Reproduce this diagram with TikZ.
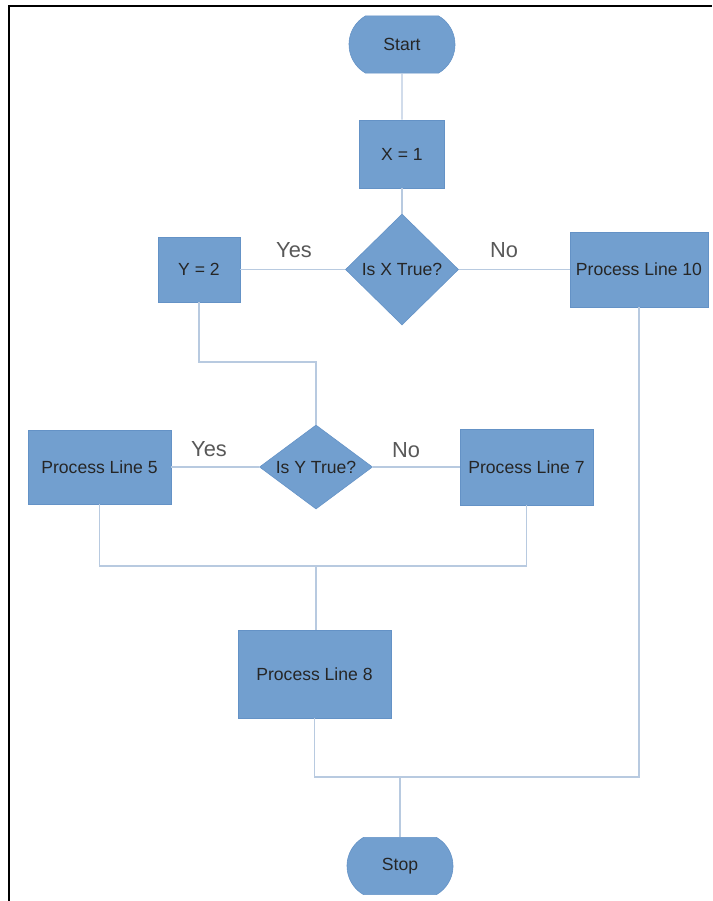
\documentclass[tikz,border=0pt]{standalone}
\usepackage{fontspec}
\setmainfont{Liberation Sans}
\usetikzlibrary{shapes.geometric,shapes.misc}
\definecolor{boxblue}{RGB}{114,159,207}
\definecolor{boxedge}{RGB}{100,146,198}
\definecolor{linkblue}{RGB}{184,202,224}
\definecolor{labelgray}{RGB}{88,88,88}
\tikzset{
  terminal/.style={rounded rectangle,rounded rectangle arc length=120,fill=boxblue,draw=boxedge,
    line width=0.4pt,minimum width=2.65cm,minimum height=1.43cm,inner sep=0pt,
    text=black!85,font=\fontsize{12.5}{15}\selectfont},
  procbox/.style={rectangle,fill=boxblue,draw=boxedge,line width=0.4pt,inner sep=0pt,
    text=black!85,font=\fontsize{12.5}{15}\selectfont},
  decision/.style={diamond,fill=boxblue,draw=boxedge,line width=0.4pt,inner sep=0pt,
    text=black!85,font=\fontsize{12.5}{15}\selectfont},
  flowline/.style={linkblue,line width=0.9pt},
  answer/.style={text=labelgray,font=\fontsize{15.5}{18}\selectfont,inner sep=0pt}
}
\begin{document}
\begin{tikzpicture}[x=0.025cm,y=-0.025cm]
  \useasboundingbox (0,0) rectangle (712,901);
  \draw[line width=2.1pt] (9,901) -- (9,6) -- (712,6);

  \node[terminal] (start) at (402,44.5) {Start};
  \node[procbox,minimum width=2.125cm,minimum height=1.7cm] (x1) at (402,154) {X = 1};
  \node[decision,minimum width=2.825cm,minimum height=2.775cm] (isx) at (402,269.5) {Is X True?};
  \node[procbox,minimum width=2.05cm,minimum height=1.625cm] (y2) at (199,269.5) {Y = 2\hspace{0.45cm}};
  \node[procbox,minimum width=3.45cm,minimum height=1.875cm] (pl10) at (639,269.5) {Process Line 10};
  \node[answer] (yesx) at (294,250) {Yes};
  \node[answer] (nox) at (504,250) {No};

  \node[decision,shape aspect=1.4,minimum width=2.825cm,minimum height=2.1cm] (isy) at (316,467) {Is Y True?};
  \node[procbox,minimum width=3.575cm,minimum height=1.85cm] (pl5) at (99.5,467) {Process Line 5};
  \node[procbox,minimum width=3.325cm,minimum height=1.9cm] (pl7) at (526.5,467) {Process Line 7};
  \node[answer] (yesy) at (209,449) {Yes};
  \node[answer] (noy) at (406,450) {No};

  \node[procbox,minimum width=3.825cm,minimum height=2.2cm] (pl8) at (314.5,674) {Process Line 8};
  \node[terminal] (stop) at (400,866) {Stop};

  \coordinate (k1) at (316,362);
  \coordinate (k2) at (316,566);
  \coordinate (k3) at (400,777);

  \draw[flowline] (start) -- (x1);
  \draw[flowline] (x1) -- (isx);
  \draw[flowline] (isx.west) -- (y2.east);
  \draw[flowline] (isx.east) -- (pl10.west);
  \draw[flowline] (y2.south) |- (k1) -- (isy.north);
  \draw[flowline] (isy.west) -- (pl5.east);
  \draw[flowline] (isy.east) -- (pl7.west);
  \draw[flowline] (pl5.south) |- (k2) -| (pl7.south);
  \draw[flowline] (k2) -- (k2 |- pl8.north);
  \draw[flowline] (pl8.south) |- (k3) -| (pl10.south);
  \draw[flowline] (k3) -- (stop.north);
\end{tikzpicture}
\end{document}
